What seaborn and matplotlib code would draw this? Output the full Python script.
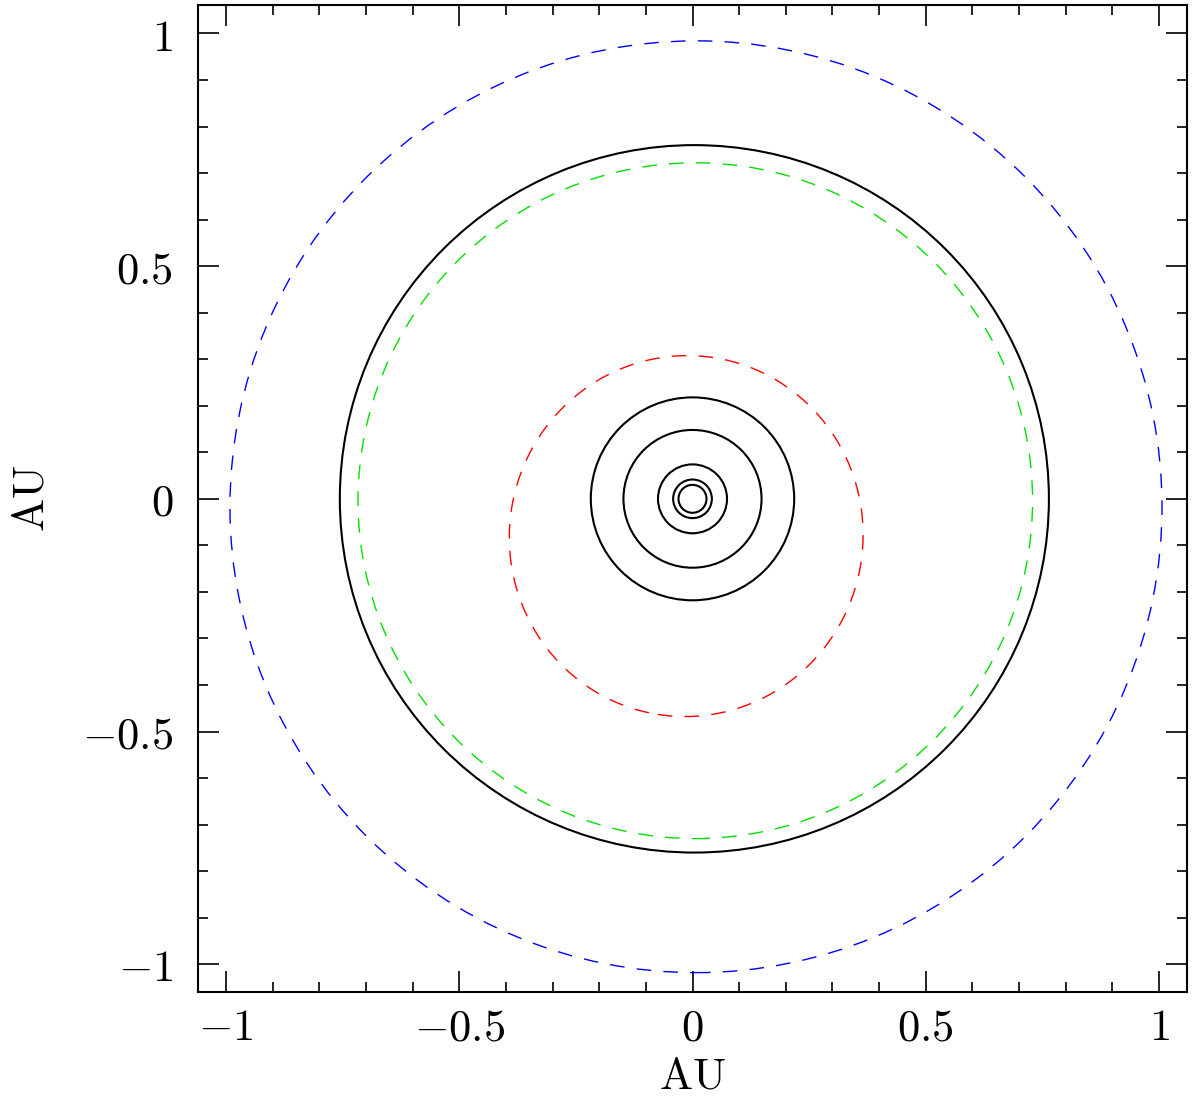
import matplotlib
matplotlib.use("Agg")
import matplotlib.pyplot as plt
import seaborn as sns
from matplotlib.patches import Ellipse
from matplotlib.ticker import MultipleLocator

# orbits drawn as solid black circles (radius in AU, centre in AU)
solid_radius = [0.030, 0.0415, 0.074, 0.148, 0.218, 0.760]
solid_cx = [0.0, 0.0, 0.0, 0.0, 0.0, 0.004]
solid_cy = [0.0, 0.0, 0.0, 0.0, 0.0, 0.0]

# dashed orbits (semi-axes in AU, centre in AU, tilt in degrees)
dash_color = ["red", "#00e000", "blue"]
dash_ax = [0.379, 0.723, 0.999]
dash_ay = [0.388, 0.726, 1.001]
dash_cx = [-0.0135, 0.006, 0.0075]
dash_cy = [-0.080, -0.004, -0.017]
dash_tilt = [-9.0, 0.0, 0.0]

tick_major = [-1, -0.5, 0, 0.5, 1]
tick_labels = ["$-1$", "$-0.5$", "$0$", "$0.5$", "$1$"]

sns.set_style("ticks")
plt.rcParams["font.family"] = ["DejaVu Serif"]
plt.rcParams["mathtext.fontset"] = "cm"
plt.rcParams["lines.scale_dashes"] = False
plt.rcParams["text.color"] = "black"
plt.rcParams["axes.labelcolor"] = "black"
plt.rcParams["xtick.labelcolor"] = "black"
plt.rcParams["ytick.labelcolor"] = "black"

fig = plt.figure(figsize=(11.95, 10.99), dpi=100)
ax = fig.add_axes([0.1657, 0.0972, 0.8276, 0.8978])

for r, cx, cy in zip(solid_radius, solid_cx, solid_cy):
    ax.add_patch(Ellipse((cx, cy), 2 * r, 2 * r, fill=False,
                         edgecolor="black", linewidth=1.5))

for c, a, b, cx, cy, t in zip(dash_color, dash_ax, dash_ay, dash_cx, dash_cy, dash_tilt):
    ax.add_patch(Ellipse((cx, cy), 2 * a, 2 * b, angle=t, fill=False,
                         edgecolor=c, linewidth=1.0, linestyle=(0, (10.5, 8.8))))

ax.set_xlim(-1.06, 1.06)
ax.set_ylim(-1.06, 1.06)

ax.set_xticks(tick_major)
ax.set_yticks(tick_major)
ax.set_xticklabels(tick_labels)
ax.set_yticklabels(tick_labels)
ax.xaxis.set_minor_locator(MultipleLocator(0.1))
ax.yaxis.set_minor_locator(MultipleLocator(0.1))

ax.tick_params(which="both", direction="in", top=True, right=True,
               width=1.2, color="black")
ax.tick_params(which="major", length=15, labelsize=32)
ax.tick_params(which="minor", length=7.5)
ax.tick_params(axis="x", which="major", pad=10)
ax.tick_params(axis="y", which="major", pad=18)

for s in ax.spines.values():
    s.set_linewidth(1.5)
    s.set_color("black")

ax.set_ylabel("$\\mathrm{AU}$", fontsize=32, labelpad=21)
ax.set_xlabel("$\\mathrm{AU}$", fontsize=32, labelpad=4)

fig.savefig("out.png", dpi=100)
